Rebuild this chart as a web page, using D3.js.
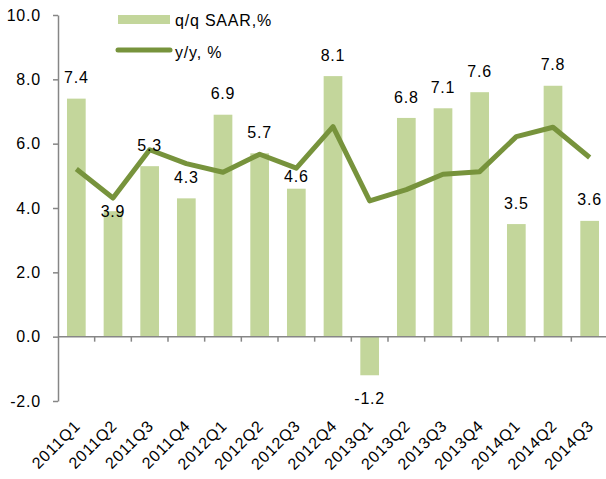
<!DOCTYPE html>
<meta charset="utf-8">
<style>
body { margin: 0; background: #fff; }
text {
  font-family: "Liberation Sans", Arial, sans-serif;
  font-size: 16px;
  letter-spacing: 0.8px;
  fill: #000;
}
</style>
<svg width="606" height="479"></svg>
<script src="https://d3js.org/d3.v7.min.js"></script>
<script>

var quarters = ["2011Q1", "2011Q2", "2011Q3", "2011Q4", "2012Q1", "2012Q2", "2012Q3", "2012Q4",
                "2013Q1", "2013Q2", "2013Q3", "2013Q4", "2014Q1", "2014Q2", "2014Q3"];
var qqSaar = [7.4, 3.9, 5.3, 4.3, 6.9, 5.7, 4.6, 8.1, -1.2, 6.8, 7.1, 7.6, 3.5, 7.8, 3.6];
var yoy = [5.21, 4.31, 5.81, 5.38, 5.11, 5.67, 5.24, 6.53, 4.22, 4.57, 5.05, 5.13, 6.22, 6.51, 5.57];
var yTicks = [-2, 0, 2, 4, 6, 8, 10];
var seriesNames = ["q/q SAAR,%", "y/y, %"];

// labels that sit lower because the line runs through them
var labelNudge = { "2011Q2": 21, "2012Q3": 9 };

var barColor = "#c3d69b",
    lineColor = "#77933c",
    axisColor = "#868686";

var svg = d3.select("svg"),
    plotLeft = 58, plotRight = 608, plotTop = 15, plotBottom = 401;

var fmt = d3.formatLocale({ decimal: ".", thousands: ",", grouping: [3], currency: ["", ""], minus: "-" }).format(".1f");

var x = d3.scaleBand()
    .domain(quarters)
    .range([plotLeft, plotRight])
    .paddingInner(0.49)
    .paddingOuter(0.245);

var y = d3.scaleLinear()
    .domain([-2, 10])
    .range([plotBottom, plotTop]);

// bars
svg.append("g").selectAll("rect")
  .data(qqSaar)
  .join("rect")
    .attr("x", function(d, i) { return x(quarters[i]); })
    .attr("width", x.bandwidth())
    .attr("y", function(d) { return y(Math.max(0, d)); })
    .attr("height", function(d) { return Math.abs(y(d) - y(0)); })
    .attr("fill", barColor);

// y axis
var yAxis = svg.append("g")
    .attr("transform", "translate(" + plotLeft + ",0)")
    .call(d3.axisLeft(y).tickValues(yTicks).tickFormat(fmt).tickSize(5).tickSizeOuter(0).tickPadding(12));
yAxis.attr("font-size", null).attr("font-family", null);
yAxis.select(".domain").attr("stroke", axisColor).attr("stroke-width", 1.5);
yAxis.selectAll(".tick line").attr("stroke", axisColor).attr("stroke-width", 1.5);
yAxis.selectAll(".tick text").attr("fill", "#000");

// x axis line at zero with ticks between categories
var gap = (x.step() - x.bandwidth()) / 2;
svg.append("line")
    .attr("x1", plotLeft).attr("x2", plotRight)
    .attr("y1", y(0)).attr("y2", y(0))
    .attr("stroke", axisColor).attr("stroke-width", 1.5);
svg.append("g").selectAll("line")
  .data(quarters.slice(1))
  .join("line")
    .attr("x1", function(d) { return x(d) - gap; })
    .attr("x2", function(d) { return x(d) - gap; })
    .attr("y1", y(0))
    .attr("y2", y(0) + 5)
    .attr("stroke", axisColor).attr("stroke-width", 1.5);

// category labels, rotated
svg.append("g").selectAll("text")
  .data(quarters)
  .join("text")
    .attr("text-anchor", "end")
    .attr("transform", function(d) {
      return "translate(" + (x(d) + x.bandwidth() / 2 + 5) + "," + (plotBottom + 26) + ") rotate(-45)";
    })
    .text(function(d) { return d; });

// y/y line
var line = d3.line()
    .x(function(d, i) { return x(quarters[i]) + x.bandwidth() / 2; })
    .y(function(d) { return y(d); });

svg.append("path")
    .datum(yoy)
    .attr("d", line)
    .attr("fill", "none")
    .attr("stroke", lineColor)
    .attr("stroke-width", 5)
    .attr("stroke-linejoin", "round");

// bar value labels
svg.append("g").selectAll("text")
  .data(qqSaar)
  .join("text")
    .attr("text-anchor", "middle")
    .attr("dy", "0.35em")
    .attr("x", function(d, i) { return x(quarters[i]) + x.bandwidth() / 2; })
    .attr("y", function(d, i) {
      if (d < 0) return y(d) + 23;
      return y(d) - 21 + (labelNudge[quarters[i]] || 0);
    })
    .text(function(d) { return fmt(d); });

// legend
var legend = svg.append("g");
legend.append("rect")
    .attr("x", 118).attr("y", 15)
    .attr("width", 52).attr("height", 9)
    .attr("fill", barColor);
legend.append("line")
    .attr("x1", 118).attr("x2", 170)
    .attr("y1", 50).attr("y2", 50)
    .attr("stroke", lineColor)
    .attr("stroke-width", 5)
    .attr("stroke-linecap", "round");
legend.selectAll("text")
  .data(seriesNames)
  .join("text")
    .attr("x", 175)
    .attr("y", function(d, i) { return i ? 52 : 20; })
    .attr("dy", "0.35em")
    .text(function(d) { return d; });

</script>
